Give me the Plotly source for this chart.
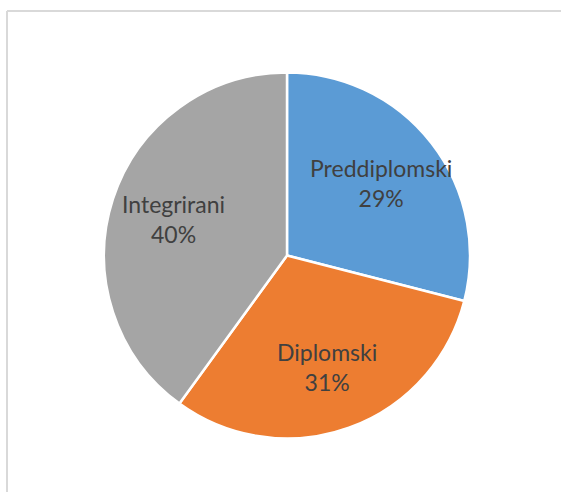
import math
import plotly.graph_objects as go

labels = ["Preddiplomski", "Diplomski", "Integrirani"]
values = [29, 31, 40]
colors = ["#5B9BD5", "#ED7D31", "#A5A5A5"]

W, H = 561, 492
cx, cy, r = 287, 255.5, 183
label_k = 0.65

fig = go.Figure(go.Pie(
    labels=labels,
    values=values,
    sort=False,
    direction="clockwise",
    rotation=0,
    marker=dict(colors=colors, line=dict(color="white", width=2.5)),
    textinfo="none",
    hoverinfo="skip",
    showlegend=False,
    domain=dict(x=[(cx - r) / W, (cx + r) / W], y=[1 - (cy + r) / H, 1 - (cy - r) / H]),
))

# data labels placed at each slice's mid-angle
total = sum(values)
annotations = []
cum = 0
for lab, v in zip(labels, values):
    mid = (cum + v / 2) / total * 2 * math.pi
    cum += v
    px = cx + label_k * r * math.sin(mid)
    py = cy - label_k * r * math.cos(mid)
    annotations.append(dict(
        x=px / W, y=1 - py / H, xref="paper", yref="paper",
        text=f"{lab}<br>{round(v / total * 100)}%",
        showarrow=False, xanchor="center", yanchor="middle",
        font=dict(family="Lato", size=23, color="#404040"),
    ))

frame = dict(color="#D9D9D9", width=2)
fig.update_layout(
    width=W, height=H,
    margin=dict(l=0, r=0, t=0, b=0),
    paper_bgcolor="white",
    annotations=annotations,
    shapes=[
        dict(type="line", xref="paper", yref="paper", x0=7 / W, x1=1, y0=1 - 11 / H, y1=1 - 11 / H,
             line=frame, layer="below"),
        dict(type="line", xref="paper", yref="paper", x0=7 / W, x1=7 / W, y0=0, y1=1 - 11 / H,
             line=frame, layer="below"),
    ],
)

fig.write_html("out.html", config={"displayModeBar": False},
               post_script="document.body.style.margin='0';document.body.style.overflow='hidden';")
